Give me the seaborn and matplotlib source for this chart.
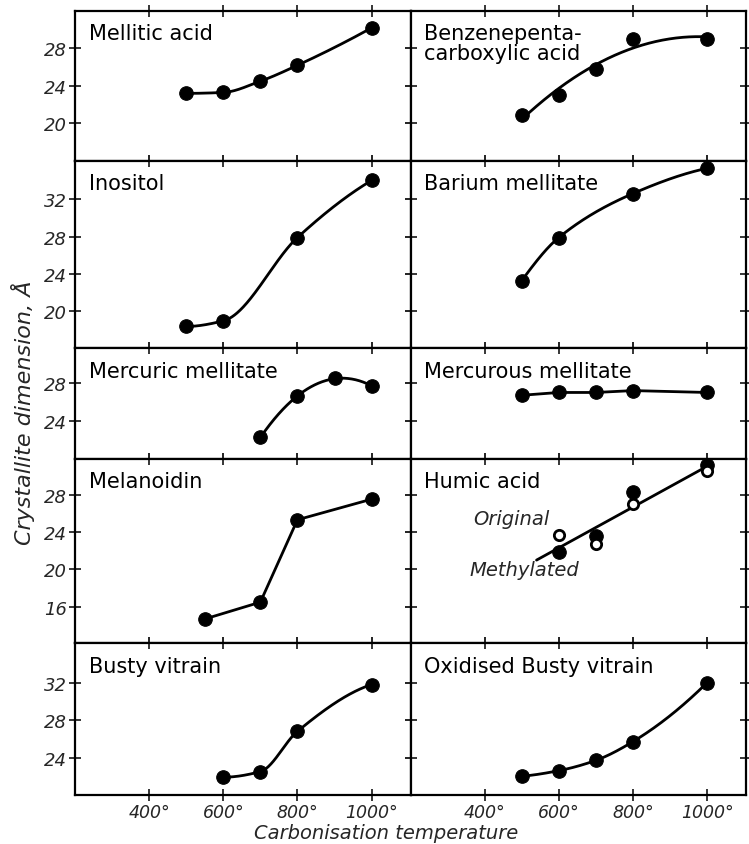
import numpy as np
import pandas as pd
import matplotlib.pyplot as plt
import seaborn as sns

# carbonisation temperatures (deg C) and crystallite dimensions (Angstrom)
temps_5 = [500, 600, 700, 800, 1000]
mellitic = [23.2, 23.3, 24.5, 26.2, 30.2]
benzene = [20.9, 23.0, 25.8, 29.0, 29.0]
inositol_t = [500, 600, 800, 1000]
inositol = [18.4, 19.0, 27.9, 34.0]
barium_t = [500, 600, 800, 1000]
barium = [23.3, 27.9, 32.6, 35.3]
mercuric_t = [700, 800, 900, 1000]
mercuric = [22.2, 26.6, 28.5, 27.7]
mercurous = [26.7, 27.0, 27.0, 27.2, 27.0]
melanoidin_t = [550, 700, 800, 1000]
melanoidin = [14.7, 16.5, 25.3, 27.5]
humic_t = [600, 700, 800, 1000]
humic_original = [23.7, 22.7, 27.0, 30.5]
humic_methylated = [21.9, 23.6, 28.3, 31.2]
busty_t = [600, 700, 800, 1000]
busty = [21.9, 22.5, 26.8, 31.8]
oxidised = [22.0, 22.6, 23.7, 25.7, 32.0]

x_ticks = [400, 600, 800, 1000]
x_labels = ["400°", "600°", "800°", "1000°"]

row_ylims = [(16.0, 32.0), (16.05, 36.1), (19.9, 31.7), (12.1, 31.8), (20.0, 36.2)]
row_yticks = [[20, 24, 28], [20, 24, 28, 32], [24, 28], [16, 20, 24, 28], [24, 28, 32]]

# (title, temps, values, curve: "pchip", "fit2", "line")
panels = [
    ("Mellitic acid", temps_5, mellitic, "pchip"),
    ("Benzenepenta-\ncarboxylic acid", temps_5, benzene, "fit2"),
    ("Inositol", inositol_t, inositol, "pchip"),
    ("Barium mellitate", barium_t, barium, "pchip"),
    ("Mercuric mellitate", mercuric_t, mercuric, "fit2"),
    ("Mercurous mellitate", temps_5, mercurous, "line"),
    ("Melanoidin", melanoidin_t, melanoidin, "line"),
    ("Humic acid", None, None, "fit1"),
    ("Busty vitrain", busty_t, busty, "pchip"),
    ("Oxidised Busty vitrain", temps_5, oxidised, "pchip"),
]

sns.set_style("ticks")
plt.rcParams['font.family'] = ['DejaVu Sans']

fig, axs = plt.subplots(5, 2, figsize=(7.49, 8.45), dpi=100,
                        gridspec_kw=dict(height_ratios=[b - a for a, b in row_ylims],
                                         hspace=0, wspace=0))
fig.subplots_adjust(left=75/749, right=746/749, top=1 - 12/845, bottom=1 - 796/845)

title_font = dict(family="DejaVu Sans", fontsize=15, color="black")
ytick_font = dict(family="DejaVu Sans", style="italic", fontsize=13)
xtick_font = dict(family="DejaVu Sans", style="italic", fontsize=12.5)


def pchip(xs, ys, xx):
    x = np.asarray(xs, float)
    y = np.asarray(ys, float)
    h = np.diff(x)
    d = np.diff(y) / h
    n = len(x)
    m = np.zeros(n)
    for k in range(1, n - 1):
        if d[k - 1] * d[k] > 0:
            w1 = 2 * h[k] + h[k - 1]
            w2 = h[k] + 2 * h[k - 1]
            m[k] = (w1 + w2) / (w1 / d[k - 1] + w2 / d[k])

    def end(h0, h1, d0, d1):
        s = ((2 * h0 + h1) * d0 - h0 * d1) / (h0 + h1)
        if np.sign(s) != np.sign(d0):
            s = 0.0
        elif np.sign(d0) != np.sign(d1) and abs(s) > abs(3 * d0):
            s = 3 * d0
        return s

    m[0] = end(h[0], h[1], d[0], d[1])
    m[-1] = end(h[-1], h[-2], d[-1], d[-2])
    k = np.clip(np.searchsorted(x, xx) - 1, 0, n - 2)
    t = (xx - x[k]) / h[k]
    h00 = 2 * t**3 - 3 * t**2 + 1
    h10 = t**3 - 2 * t**2 + t
    h01 = -2 * t**3 + 3 * t**2
    h11 = t**3 - t**2
    return h00 * y[k] + h10 * h[k] * m[k] + h01 * y[k + 1] + h11 * h[k] * m[k + 1]


def draw_curve(ax, xs, ys, kind, start=None):
    if kind == "line":
        sns.lineplot(x=xs, y=ys, ax=ax, color="black", lw=2, estimator=None)
        return
    lo = min(xs) if start is None else start
    xx = np.linspace(lo, max(xs), 300)
    if kind == "pchip":
        yy = pchip(xs, ys, xx)
    else:
        yy = np.polyval(np.polyfit(xs, ys, int(kind[-1])), xx)
    sns.lineplot(x=xx, y=yy, ax=ax, color="black", lw=2, estimator=None)


for i, (title, tx, vals, kind) in enumerate(panels):
    r, c = divmod(i, 2)
    ax = axs[r, c]
    if title == "Humic acid":
        draw_curve(ax, humic_t + humic_t, humic_original + humic_methylated, kind, start=540)
        sns.scatterplot(x=humic_t, y=humic_methylated, ax=ax, color="black", s=95,
                        edgecolor="black", zorder=3)
        sns.scatterplot(x=humic_t, y=humic_original, ax=ax, facecolor="white", s=55,
                        edgecolor="black", linewidth=2, zorder=4)
        ax.text(368, 25.4, "Original", style="italic", fontsize=14, va="center")
        ax.text(358, 20.0, "Methylated", style="italic", fontsize=14, va="center")
    else:
        draw_curve(ax, tx, vals, kind)
        sns.scatterplot(x=tx, y=vals, ax=ax, color="black", s=95, edgecolor="black", zorder=3)

    ax.annotate(title, xy=(0, 1), xycoords="axes fraction", xytext=(10, -9),
                textcoords="offset points", va="top", ha="left", linespacing=0.95,
                **title_font)

    ax.set_xlim(200, 1105)
    ax.set_ylim(*row_ylims[r])
    ax.set_xticks(x_ticks)
    ax.set_yticks(row_yticks[r])
    ax.tick_params(which="both", direction="inout", top=True, right=True,
                   length=8, width=1.3, pad=2)
    if c == 0:
        ax.set_yticklabels([str(v) for v in row_yticks[r]], **ytick_font)
    else:
        ax.set_yticklabels([])
    if r == 4:
        ax.set_xticklabels(x_labels, **xtick_font)
    else:
        ax.set_xticklabels([])
    for s in ax.spines.values():
        s.set_linewidth(1.6)
        s.set_color("black")
    ax.set_xlabel("")
    ax.set_ylabel("")

fig.text(0.031, 0.512, "Crystallite dimension, Å", rotation=90, ha="center", va="center",
         style="italic", fontsize=16)
fig.text(0.515, 0.002, "Carbonisation temperature", ha="center", va="bottom",
         style="italic", fontsize=14)

fig.savefig("out.png", dpi=100)
